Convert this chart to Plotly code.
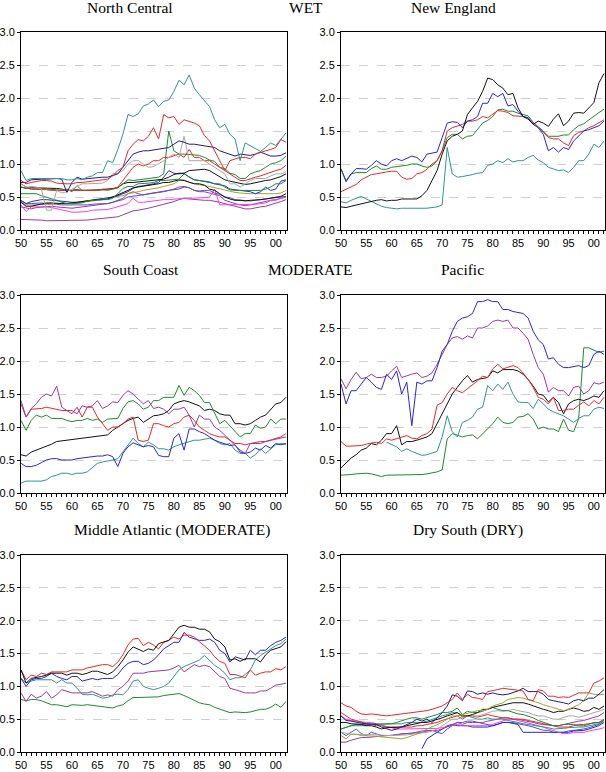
import plotly.graph_objects as go

years = list(range(1950, 2003))
x_tick_years = [1950, 1955, 1960, 1965, 1970, 1975, 1980, 1985, 1990, 1995, 2000]
x_tick_text = ["50", "55", "60", "65", "70", "75", "80", "85", "90", "95", "00"]
y_tick_vals = [0.0, 0.5, 1.0, 1.5, 2.0, 2.5, 3.0]

titles = ["North Central", "New England", "South Coast", "Pacific",
          "Middle Atlantic (MODERATE)", "Dry South (DRY)"]
group_labels = ["WET", "MODERATE"]

BLUE = "#2626d8"
RED = "#e42a2a"
GREEN = "#1e8a2c"
BLACK = "#111111"
TEAL = "#2f9494"
PURPLE = "#9a3aa0"
NAVY = "#1d1d7c"
GREY = "#a8a8a8"
OLIVE = "#a2a232"
MAGENTA = "#f040f0"
SLATE = "#5252c0"

# ---------------- North Central ----------------
nc_teal = [0.90, 0.75, 0.78, 0.78, 0.78, 0.78, 0.79, 0.79, 0.78, 0.76,
           0.76, 0.78, 0.76, 0.80, 0.82, 0.87, 0.87, 1.05, 1.02, 1.22,
           1.45, 1.75, 1.72, 1.76, 1.88, 1.91, 1.97, 1.87, 1.95, 1.97,
           2.10, 2.27, 2.20, 2.35, 2.15, 2.05, 1.96, 1.87, 1.67, 1.55,
           1.60, 1.45, 1.38, 1.05, 1.32, 1.28, 1.24, 1.19, 1.25, 1.32,
           1.28, 1.38, 1.47]
nc_red = [0.75, 0.70, 0.72, 0.74, 0.75, 0.75, 0.74, 0.71, 0.70, 0.70,
          0.70, 0.72, 0.72, 0.73, 0.75, 0.75, 0.76, 0.77, 0.82, 0.90,
          0.95, 1.20, 1.30, 1.37, 1.35, 1.42, 1.55, 1.38, 1.75, 1.70,
          1.72, 1.60, 1.67, 1.65, 1.62, 1.58, 1.43, 1.35, 1.20, 1.05,
          0.90, 1.05, 1.08, 1.10, 1.10, 1.08, 1.15, 1.18, 1.20, 1.22,
          1.25, 1.37, 1.33]
nc_navy = [0.72, 0.72, 0.76, 0.77, 0.77, 0.77, 0.78, 0.78, 0.77, 0.57,
           0.72, 0.80, 0.77, 0.78, 0.78, 0.79, 0.80, 0.80, 0.82, 0.85,
           0.95, 1.05, 1.15, 1.18, 1.20, 1.20, 1.21, 1.22, 1.24, 1.25,
           1.30, 1.35, 1.33, 1.30, 1.30, 1.29, 1.28, 1.27, 1.25, 1.20,
           1.17, 1.15, 1.12, 1.15, 1.14, 1.13, 1.15, 1.18, 1.15, 1.12,
           1.12, 1.13, 1.17]
nc_grey = [0.70, 0.65, 0.66, 0.65, 0.62, 0.30, 0.30, 0.60, 0.56, 0.58,
           0.62, 0.66, 0.70, 0.70, 0.70, 0.70, 0.71, 0.75, 0.85, 0.86,
           0.90, 1.00, 1.05, 1.05, 1.00, 0.95, 0.96, 1.00, 1.05, 1.10,
           1.15, 1.10, 1.42, 1.05, 1.05, 1.05, 1.05, 1.00, 0.95, 0.90,
           0.85, 0.70, 0.70, 0.65, 0.70, 0.75, 0.78, 0.78, 0.78, 0.82,
           0.85, 0.85, 0.88]
nc_red2 = [0.70, 0.65, 0.62, 0.62, 0.62, 0.61, 0.60, 0.60, 0.60, 0.60,
           0.60, 0.60, 0.60, 0.60, 0.60, 0.60, 0.62, 0.62, 0.62, 0.65,
           0.75, 0.85, 0.95, 1.00, 0.97, 1.00, 1.05, 1.05, 1.10, 1.10,
           1.13, 1.15, 1.10, 1.22, 1.10, 1.10, 1.05, 1.05, 1.00, 0.95,
           0.90, 0.85, 0.80, 0.75, 0.75, 0.78, 0.80, 0.82, 0.85, 0.88,
           0.90, 0.92, 0.98]
nc_green = [0.65, 0.63, 0.62, 0.62, 0.63, 0.62, 0.62, 0.61, 0.60, 0.62,
            0.58, 0.67, 0.60, 0.60, 0.59, 0.60, 0.61, 0.60, 0.62, 0.64,
            0.70, 0.76, 0.75, 0.76, 0.77, 0.78, 0.78, 0.80, 0.85, 1.50,
            1.20, 1.15, 1.15, 1.14, 1.14, 1.13, 1.10, 1.06, 1.04, 0.95,
            0.93, 0.86, 0.84, 0.78, 0.78, 0.85, 0.88, 0.90, 0.95, 1.00,
            1.02, 1.05, 1.12]
nc_green2 = [0.55, 0.55, 0.56, 0.55, 0.52, 0.50, 0.48, 0.45, 0.42, 0.40,
             0.40, 0.40, 0.41, 0.44, 0.45, 0.45, 0.46, 0.46, 0.48, 0.55,
             0.63, 0.66, 0.66, 0.70, 0.70, 0.71, 0.72, 0.75, 0.75, 0.76,
             0.76, 0.77, 0.85, 0.80, 0.76, 0.75, 0.74, 0.73, 0.70, 0.70,
             0.65, 0.61, 0.60, 0.60, 0.60, 0.60, 0.60, 0.60, 0.62, 0.65,
             0.70, 0.70, 0.75]
nc_black = [0.65, 0.63, 0.64, 0.64, 0.64, 0.64, 0.63, 0.63, 0.62, 0.60,
            0.60, 0.61, 0.60, 0.60, 0.60, 0.61, 0.61, 0.62, 0.63, 0.64,
            0.70, 0.72, 0.72, 0.73, 0.73, 0.74, 0.75, 0.76, 0.77, 0.80,
            0.84, 0.86, 0.86, 0.90, 0.91, 0.92, 0.92, 0.90, 0.85, 0.80,
            0.76, 0.74, 0.72, 0.70, 0.69, 0.70, 0.72, 0.73, 0.75, 0.76,
            0.78, 0.81, 0.85]
nc_black2 = [0.42, 0.36, 0.36, 0.38, 0.40, 0.41, 0.41, 0.40, 0.40, 0.40,
             0.41, 0.42, 0.44, 0.45, 0.45, 0.46, 0.46, 0.47, 0.50, 0.53,
             0.56, 0.60, 0.64, 0.65, 0.66, 0.67, 0.69, 0.70, 0.72, 0.72,
             0.74, 0.76, 0.75, 0.72, 0.70, 0.70, 0.68, 0.62, 0.60, 0.55,
             0.50, 0.47, 0.45, 0.45, 0.44, 0.45, 0.45, 0.46, 0.47, 0.48,
             0.50, 0.51, 0.55]
nc_blue = [0.45, 0.40, 0.43, 0.45, 0.46, 0.46, 0.45, 0.44, 0.43, 0.42,
           0.42, 0.42, 0.43, 0.44, 0.45, 0.46, 0.47, 0.48, 0.50, 0.52,
           0.55, 0.58, 0.63, 0.66, 0.67, 0.68, 0.70, 0.72, 0.80, 0.90,
           0.86, 0.85, 0.86, 0.80, 0.76, 0.75, 0.74, 0.72, 0.70, 0.68,
           0.67, 0.62, 0.61, 0.60, 0.60, 0.58, 0.55, 0.58, 0.65, 0.60,
           0.62, 0.74, 0.76]
nc_olive = [0.42, 0.38, 0.38, 0.38, 0.38, 0.38, 0.39, 0.40, 0.40, 0.40,
            0.40, 0.41, 0.42, 0.43, 0.45, 0.45, 0.46, 0.47, 0.50, 0.51,
            0.52, 0.55, 0.56, 0.58, 0.60, 0.61, 0.62, 0.64, 0.66, 0.68,
            0.70, 0.75, 0.76, 0.72, 0.70, 0.69, 0.67, 0.66, 0.64, 0.62,
            0.60, 0.58, 0.57, 0.56, 0.55, 0.55, 0.55, 0.55, 0.54, 0.55,
            0.55, 0.56, 0.60]
nc_slate = [0.44, 0.40, 0.40, 0.41, 0.41, 0.40, 0.40, 0.39, 0.38, 0.38,
            0.37, 0.37, 0.38, 0.38, 0.39, 0.40, 0.40, 0.40, 0.42, 0.44,
            0.46, 0.50, 0.51, 0.52, 0.54, 0.55, 0.56, 0.57, 0.58, 0.60,
            0.61, 0.62, 0.65, 0.64, 0.60, 0.59, 0.60, 0.60, 0.56, 0.54,
            0.50, 0.49, 0.46, 0.45, 0.44, 0.44, 0.45, 0.46, 0.48, 0.48,
            0.49, 0.50, 0.51]
nc_magenta = [0.38, 0.28, 0.35, 0.35, 0.36, 0.35, 0.34, 0.32, 0.30, 0.29,
              0.27, 0.27, 0.27, 0.28, 0.30, 0.30, 0.30, 0.31, 0.33, 0.35,
              0.37, 0.40, 0.48, 0.42, 0.42, 0.43, 0.45, 0.45, 0.46, 0.46,
              0.47, 0.48, 0.48, 0.48, 0.48, 0.48, 0.49, 0.50, 0.62, 0.38,
              0.38, 0.38, 0.38, 0.38, 0.38, 0.38, 0.39, 0.40, 0.41, 0.45,
              0.45, 0.48, 0.50]
nc_purple = [0.35, 0.33, 0.32, 0.34, 0.35, 0.35, 0.36, 0.35, 0.34, 0.33,
             0.33, 0.34, 0.35, 0.36, 0.37, 0.38, 0.38, 0.40, 0.42, 0.45,
             0.48, 0.55, 0.58, 0.55, 0.53, 0.55, 0.56, 0.57, 0.58, 0.60,
             0.62, 0.65, 0.66, 0.64, 0.60, 0.58, 0.58, 0.56, 0.55, 0.52,
             0.45, 0.42, 0.40, 0.38, 0.37, 0.38, 0.40, 0.42, 0.44, 0.45,
             0.46, 0.48, 0.50]
nc_purple2 = [0.16, 0.16, 0.16, 0.16, 0.15, 0.14, 0.14, 0.14, 0.14, 0.14,
              0.14, 0.14, 0.14, 0.15, 0.16, 0.17, 0.17, 0.18, 0.19, 0.20,
              0.23, 0.26, 0.29, 0.30, 0.31, 0.33, 0.35, 0.37, 0.39, 0.40,
              0.43, 0.46, 0.48, 0.47, 0.46, 0.45, 0.45, 0.45, 0.44, 0.42,
              0.40, 0.38, 0.35, 0.33, 0.32, 0.32, 0.34, 0.35, 0.36, 0.38,
              0.41, 0.43, 0.46]

# ---------------- New England ----------------
ne_black = [0.35, 0.34, 0.36, 0.38, 0.40, 0.42, 0.43, 0.45, 0.46, 0.44,
            0.45, 0.45, 0.47, 0.47, 0.46, 0.47, 0.52, 0.60, 0.75, 0.90,
            1.15, 1.35, 1.42, 1.45, 1.50, 1.75, 1.85, 1.95, 2.10, 2.30,
            2.28, 2.20, 2.15, 2.05, 2.07, 1.85, 1.72, 1.68, 1.60, 1.65,
            1.62, 1.57, 1.68, 1.76, 1.58, 1.65, 1.77, 1.78, 1.77, 1.85,
            1.93, 2.23, 2.37]
ne_blue = [0.93, 0.73, 0.85, 0.93, 0.93, 0.92, 0.98, 1.05, 1.00, 0.97,
           1.05, 1.08, 1.05, 1.08, 1.12, 1.10, 1.03, 1.15, 1.17, 1.18,
           1.40, 1.62, 1.64, 1.63, 1.55, 1.65, 1.67, 1.72, 1.92, 1.92,
           2.07, 2.02, 2.07, 1.88, 1.90, 1.80, 1.72, 1.70, 1.60, 1.55,
           1.45, 1.20, 1.25, 1.18, 1.25, 1.22, 1.35, 1.43, 1.50, 1.52,
           1.55, 1.58, 1.65]
ne_red = [0.58, 0.62, 0.66, 0.69, 0.76, 0.80, 0.84, 0.85, 0.87, 0.88,
          0.89, 0.89, 0.80, 0.77, 0.78, 0.85, 0.87, 0.92, 1.00, 1.05,
          1.20, 1.50, 1.55, 1.58, 1.60, 1.65, 1.65, 1.67, 1.72, 1.70,
          1.75, 1.81, 1.80, 1.78, 1.73, 1.73, 1.72, 1.70, 1.62, 1.55,
          1.48, 1.40, 1.38, 1.38, 1.32, 1.28, 1.43, 1.48, 1.50, 1.55,
          1.58, 1.62, 1.67]
ne_green = [0.92, 0.75, 0.85, 0.87, 0.87, 0.87, 0.93, 0.97, 0.92, 0.92,
            0.95, 0.96, 0.96, 0.98, 1.00, 1.00, 0.97, 0.95, 0.97, 1.05,
            1.20, 1.40, 1.45, 1.45, 1.38, 1.42, 1.43, 1.52, 1.62, 1.66,
            1.72, 1.82, 1.83, 1.80, 1.80, 1.77, 1.75, 1.73, 1.63, 1.57,
            1.50, 1.42, 1.42, 1.42, 1.44, 1.44, 1.52, 1.58, 1.61, 1.67,
            1.73, 1.78, 1.83]
ne_teal = [0.43, 0.41, 0.45, 0.48, 0.51, 0.47, 0.43, 0.40, 0.36, 0.34,
           0.33, 0.32, 0.33, 0.33, 0.33, 0.32, 0.33, 0.33, 0.34, 0.35,
           0.38, 1.25, 0.85, 0.80, 0.81, 0.82, 0.84, 0.86, 0.87, 0.98,
           1.00, 1.05, 1.02, 1.08, 1.03, 1.05, 1.05, 1.10, 1.13, 1.06,
           1.02, 0.95, 0.92, 0.90, 0.91, 0.87, 0.95, 1.05, 1.05, 1.15,
           1.30, 1.25, 1.35]

# ---------------- South Coast ----------------
sc_purple = [1.40, 1.15, 1.28, 1.35, 1.45, 1.50, 1.47, 1.62, 1.30, 1.25,
             1.25, 1.20, 1.32, 1.30, 1.32, 1.40, 1.28, 1.32, 1.38, 1.37,
             1.48, 1.55, 1.50, 1.43, 1.35, 1.40, 1.28, 1.30, 1.27, 1.20,
             1.27, 1.27, 1.30, 1.18, 1.00, 1.18, 1.12, 1.12, 1.00, 0.95,
             0.88, 0.80, 0.72, 0.65, 0.60, 0.75, 0.75, 0.75, 0.78, 0.80,
             0.83, 0.85, 0.90]
sc_red = [1.35, 1.15, 1.27, 1.27, 1.28, 1.30, 1.28, 1.27, 1.25, 1.25,
          1.20, 1.30, 1.15, 1.30, 1.30, 1.15, 1.05, 0.95, 1.00, 1.00,
          1.05, 1.12, 1.15, 0.80, 0.78, 0.80, 1.05, 1.05, 1.02, 1.00,
          1.05, 1.07, 1.15, 1.18, 1.10, 1.00, 0.95, 0.90, 0.87, 0.85,
          0.85, 0.80, 0.75, 0.75, 0.73, 0.75, 0.77, 0.78, 0.78, 0.80,
          0.82, 0.83, 0.85]
sc_green = [1.10, 0.95, 1.10, 1.18, 1.15, 1.18, 1.13, 1.13, 1.13, 1.10,
            1.08, 1.10, 1.10, 1.13, 1.10, 1.12, 1.07, 1.12, 1.13, 1.13,
            1.28, 1.38, 1.40, 1.35, 1.27, 1.30, 1.40, 1.40, 1.45, 1.45,
            1.45, 1.63, 1.48, 1.60, 1.55, 1.48, 1.37, 1.37, 1.20, 1.05,
            1.10, 1.02, 0.93, 0.85, 0.90, 0.90, 1.03, 0.98, 1.00, 1.12,
            1.05, 1.12, 1.12]
sc_black = [0.58, 0.56, 0.62, 0.65, 0.68, 0.70, 0.74, 0.78, 0.79, 0.79,
            0.80, 0.82, 0.83, 0.84, 0.85, 0.86, 0.87, 0.88, 0.95, 1.00,
            1.05, 1.10, 1.13, 1.15, 1.07, 1.12, 1.17, 1.18, 1.20, 1.25,
            1.35, 1.38, 1.40, 1.38, 1.35, 1.32, 1.25, 1.27, 1.25, 1.20,
            1.18, 1.18, 1.05, 1.05, 1.03, 1.05, 1.10, 1.15, 1.18, 1.27,
            1.35, 1.37, 1.45]
sc_blue = [0.45, 0.40, 0.40, 0.42, 0.46, 0.50, 0.52, 0.52, 0.50, 0.50,
           0.50, 0.52, 0.53, 0.55, 0.55, 0.56, 0.56, 0.58, 0.55, 0.40,
           0.60, 0.70, 0.76, 0.73, 0.70, 0.72, 0.70, 0.57, 0.55, 0.55,
           0.83, 0.90, 0.65, 0.97, 0.97, 0.93, 0.90, 0.85, 0.80, 0.77,
           0.75, 0.72, 0.73, 0.62, 0.60, 0.62, 0.68, 0.65, 0.72, 0.68,
           0.75, 0.73, 0.75]
sc_teal = [0.15, 0.18, 0.18, 0.18, 0.18, 0.20, 0.25, 0.27, 0.30, 0.30,
           0.28, 0.30, 0.30, 0.32, 0.38, 0.45, 0.47, 0.48, 0.50, 0.52,
           0.62, 0.72, 0.83, 0.75, 0.70, 0.77, 0.73, 0.67, 0.67, 0.65,
           0.70, 0.73, 0.75, 0.77, 0.80, 0.80, 0.82, 0.83, 0.80, 0.75,
           0.73, 0.75, 0.65, 0.60, 0.60, 0.53, 0.58, 0.67, 0.60, 0.67,
           0.73, 0.75, 0.74]

# ---------------- Pacific ----------------
pa_blue = [1.65, 1.35, 1.55, 1.55, 1.65, 1.75, 1.68, 1.60, 1.57, 1.80,
           1.72, 1.85, 1.50, 1.68, 1.02, 1.68, 1.65, 1.70, 1.70, 1.90,
           2.15, 2.25, 2.45, 2.60, 2.65, 2.67, 2.72, 2.90, 2.90, 2.93,
           2.90, 2.90, 2.78, 2.78, 2.75, 2.73, 2.72, 2.65, 2.45, 2.32,
           2.25, 2.03, 2.05, 1.95, 1.90, 1.90, 1.92, 1.93, 1.90, 1.93,
           2.10, 2.15, 2.10]
pa_purple = [1.73, 1.58, 1.72, 1.83, 1.73, 1.75, 1.80, 1.75, 1.75, 1.77,
             1.85, 1.92, 1.75, 1.78, 1.80, 1.82, 1.75, 1.77, 1.82, 1.95,
             2.10, 2.25, 2.35, 2.37, 2.33, 2.38, 2.35, 2.50, 2.50, 2.53,
             2.60, 2.62, 2.60, 2.62, 2.50, 2.50, 2.42, 2.33, 2.10, 1.90,
             1.80, 1.53, 1.60, 1.55, 1.55, 1.47, 1.60, 1.62, 1.50, 1.55,
             1.67, 1.65, 1.68]
pa_red = [0.78, 0.71, 0.71, 0.71, 0.72, 0.74, 0.76, 0.77, 0.75, 0.82,
          0.80, 0.82, 0.85, 0.87, 0.83, 0.82, 0.87, 0.90, 0.97, 1.33,
          1.37, 1.50, 1.60, 1.55, 1.52, 1.58, 1.63, 1.70, 1.77, 1.75,
          1.88, 1.95, 1.88, 1.90, 1.93, 1.90, 1.82, 1.72, 1.60, 1.45,
          1.42, 1.35, 1.45, 1.25, 1.25, 1.27, 1.27, 1.33, 1.38, 1.32,
          1.40, 1.35, 1.45]
pa_black = [0.38, 0.45, 0.53, 0.58, 0.65, 0.68, 0.75, 0.73, 0.80, 0.90,
            0.90, 1.02, 0.73, 0.78, 0.78, 0.80, 0.82, 0.85, 0.90, 1.05,
            1.20, 1.35, 1.50, 1.60, 1.70, 1.78, 1.68, 1.72, 1.73, 1.75,
            1.85, 1.82, 1.87, 1.87, 1.87, 1.85, 1.80, 1.72, 1.62, 1.50,
            1.48, 1.38, 1.45, 1.37, 1.20, 1.35, 1.40, 1.42, 1.40, 1.43,
            1.47, 1.45, 1.55]
pa_teal = [None, None, None, None, None, None, None, None, None, 0.77,
           0.73, 0.70, 0.63, 0.67, 0.63, 0.60, 0.57, 0.58, 0.60, 0.63,
           0.85, 1.17, 0.93, 0.85, 1.07, 1.10, 1.15, 1.27, 1.30, 1.63,
           1.55, 1.65, 1.57, 1.68, 1.50, 1.38, 1.37, 1.37, 1.28, 1.42,
           1.35, 1.27, 1.23, 1.20, 1.17, 1.12, 1.07, 1.13, 1.17, 1.17,
           1.27, 1.30, 1.28]
pa_green = [0.27, 0.27, 0.28, 0.29, 0.30, 0.30, 0.29, 0.27, 0.25, 0.27,
            0.27, 0.28, 0.28, 0.27, 0.28, 0.28, 0.28, 0.29, 0.30, 0.32,
            0.35, 0.82, 0.90, 0.87, 0.85, 0.87, 0.88, 0.82, 0.90, 0.97,
            1.05, 1.15, 1.07, 1.05, 1.07, 1.15, 1.16, 1.20, 1.12, 0.97,
            1.00, 0.97, 0.97, 0.93, 1.12, 0.95, 0.93, 1.13, 2.20, 2.20,
            2.17, 2.13, 2.15]

# ---------------- Middle Atlantic ----------------
ma_black = [1.25, 1.05, 1.12, 1.13, 1.15, 1.17, 1.20, 1.20, 1.20, 1.17,
            1.20, 1.20, 1.18, 1.20, 1.23, 1.23, 1.20, 1.18, 1.22, 1.30,
            1.40, 1.52, 1.60, 1.57, 1.53, 1.57, 1.55, 1.65, 1.67, 1.70,
            1.80, 1.90, 1.93, 1.90, 1.90, 1.87, 1.87, 1.83, 1.72, 1.68,
            1.60, 1.40, 1.42, 1.38, 1.42, 1.42, 1.42, 1.37, 1.48, 1.55,
            1.58, 1.60, 1.68]
ma_red = [1.25, 1.10, 1.17, 1.15, 1.20, 1.18, 1.22, 1.22, 1.23, 1.22,
          1.25, 1.25, 1.25, 1.28, 1.30, 1.32, 1.33, 1.33, 1.30, 1.37,
          1.48, 1.63, 1.72, 1.73, 1.62, 1.67, 1.63, 1.57, 1.67, 1.70,
          1.75, 1.72, 1.78, 1.78, 1.75, 1.68, 1.62, 1.55, 1.45, 1.38,
          1.35, 1.18, 1.18, 1.15, 1.13, 1.25, 1.17, 1.20, 1.22, 1.22,
          1.27, 1.25, 1.30]
ma_blue = [1.12, 1.00, 1.10, 1.12, 1.12, 1.15, 1.20, 1.15, 1.12, 1.10,
           1.15, 1.15, 1.08, 1.10, 1.12, 1.10, 1.12, 1.12, 1.12, 1.18,
           1.28, 1.35, 1.38, 1.38, 1.33, 1.35, 1.40, 1.48, 1.57, 1.62,
           1.67, 1.67, 1.82, 1.75, 1.72, 1.70, 1.70, 1.72, 1.67, 1.55,
           1.50, 1.37, 1.45, 1.42, 1.40, 1.55, 1.48, 1.55, 1.55, 1.62,
           1.67, 1.70, 1.75]
ma_teal = [1.12, 1.05, 1.08, 1.10, 1.10, 1.10, 1.10, 1.05, 1.10, 1.05,
           1.05, 0.97, 0.88, 0.87, 0.88, 0.85, 0.82, 0.83, 0.87, 0.88,
           0.87, 0.95, 1.08, 1.10, 1.00, 0.97, 0.95, 0.97, 1.00, 1.05,
           1.15, 1.25, 1.30, 1.33, 1.37, 1.40, 1.47, 1.40, 1.32, 1.27,
           1.20, 1.10, 1.13, 1.13, 1.18, 1.25, 1.40, 1.47, 1.52, 1.57,
           1.62, 1.65, 1.72]
ma_purple = [0.90, 0.77, 0.88, 0.82, 0.85, 0.92, 0.82, 0.87, 0.95, 0.92,
             0.90, 0.90, 0.90, 0.90, 0.92, 0.88, 0.85, 0.87, 0.85, 0.95,
             1.00, 1.08, 1.20, 1.20, 1.20, 1.22, 1.23, 1.23, 1.25, 1.25,
             1.28, 1.32, 1.22, 1.28, 1.33, 1.30, 1.32, 1.30, 1.22, 1.15,
             1.12, 0.97, 0.95, 0.92, 0.90, 0.90, 0.90, 0.93, 0.93, 0.97,
             1.02, 1.03, 1.05]
ma_green = [0.80, 0.78, 0.80, 0.80, 0.78, 0.75, 0.72, 0.72, 0.70, 0.69,
            0.72, 0.71, 0.71, 0.72, 0.71, 0.70, 0.68, 0.67, 0.67, 0.70,
            0.72, 0.78, 0.83, 0.83, 0.83, 0.84, 0.84, 0.84, 0.86, 0.87,
            0.88, 0.89, 0.86, 0.82, 0.78, 0.75, 0.73, 0.72, 0.68, 0.65,
            0.63, 0.60, 0.61, 0.60, 0.60, 0.61, 0.63, 0.65, 0.65, 0.68,
            0.73, 0.68, 0.77]

# ---------------- Dry South ----------------
ds_red = [0.75, 0.70, 0.68, 0.62, 0.58, 0.57, 0.58, 0.57, 0.56, 0.55,
          0.56, 0.57, 0.58, 0.58, 0.60, 0.61, 0.62, 0.63, 0.65, 0.67,
          0.70, 0.75, 0.80, 0.90, 0.80, 0.88, 0.83, 0.82, 0.80, 0.92,
          0.93, 0.95, 0.97, 0.96, 0.95, 0.95, 0.93, 0.80, 0.78, 0.95,
          0.93, 0.85, 0.85, 0.83, 0.84, 0.83, 0.87, 0.90, 0.90, 0.90,
          1.05, 1.08, 1.13]
ds_navy = [0.55, 0.48, 0.47, 0.45, 0.44, 0.43, 0.43, 0.42, 0.38, 0.35,
           0.33, 0.35, 0.38, 0.42, 0.45, 0.50, 0.47, 0.50, 0.45, 0.52,
           0.60, 0.70, 0.87, 0.85, 0.78, 0.93, 0.92, 0.88, 0.90, 0.88,
           0.90, 0.88, 0.87, 0.88, 0.90, 0.93, 0.97, 0.92, 0.92, 0.92,
           0.88, 0.80, 0.78, 0.77, 0.75, 0.73, 0.78, 0.80, 0.78, 0.82,
           0.82, 0.88, 0.95]
ds_olive = [0.25, 0.20, 0.27, 0.27, 0.25, 0.25, 0.24, 0.24, 0.23, 0.22,
            0.22, 0.20, 0.20, 0.22, 0.25, 0.27, 0.30, 0.35, 0.38, 0.42,
            0.45, 0.50, 0.55, 0.55, 0.57, 0.60, 0.62, 0.63, 0.63, 0.65,
            0.70, 0.72, 0.75, 0.80, 0.82, 0.83, 0.82, 0.80, 0.78, 0.75,
            0.72, 0.70, 0.67, 0.65, 0.63, 0.65, 0.68, 0.72, 0.78, 0.90,
            0.88, 0.87, 0.88]
ds_black = [0.45, 0.45, 0.43, 0.43, 0.42, 0.40, 0.40, 0.38, 0.35, 0.37,
            0.37, 0.38, 0.38, 0.40, 0.42, 0.43, 0.45, 0.45, 0.47, 0.50,
            0.52, 0.55, 0.58, 0.60, 0.55, 0.55, 0.57, 0.60, 0.65, 0.65,
            0.68, 0.70, 0.72, 0.73, 0.75, 0.75, 0.75, 0.73, 0.70, 0.67,
            0.65, 0.63, 0.60, 0.62, 0.62, 0.65, 0.67, 0.65, 0.62, 0.63,
            0.68, 0.65, 0.70]
ds_green = [0.35, 0.38, 0.40, 0.42, 0.42, 0.43, 0.43, 0.42, 0.42, 0.42,
            0.43, 0.45, 0.48, 0.50, 0.52, 0.52, 0.50, 0.52, 0.55, 0.57,
            0.60, 0.60, 0.62, 0.67, 0.57, 0.62, 0.60, 0.60, 0.62, 0.65,
            0.68, 0.65, 0.63, 0.63, 0.60, 0.58, 0.57, 0.55, 0.52, 0.48,
            0.45, 0.43, 0.40, 0.40, 0.42, 0.42, 0.42, 0.40, 0.40, 0.42,
            0.45, 0.45, 0.50]
ds_grey = [0.30, 0.28, 0.27, 0.27, 0.27, 0.27, 0.27, 0.27, 0.26, 0.25,
           0.25, 0.25, 0.25, 0.26, 0.27, 0.28, 0.28, 0.30, 0.32, 0.35,
           0.40, 0.45, 0.50, 0.50, 0.52, 0.55, 0.55, 0.55, 0.57, 0.60,
           0.62, 0.63, 0.62, 0.63, 0.65, 0.63, 0.62, 0.60, 0.57, 0.55,
           0.55, 0.52, 0.50, 0.50, 0.52, 0.55, 0.55, 0.53, 0.55, 0.58,
           0.60, 0.62, 0.65]
ds_red2 = [0.60, 0.55, 0.50, 0.48, 0.45, 0.43, 0.42, 0.40, 0.40, 0.38,
           0.38, 0.38, 0.38, 0.38, 0.38, 0.40, 0.40, 0.42, 0.43, 0.45,
           0.48, 0.50, 0.52, 0.55, 0.50, 0.55, 0.55, 0.53, 0.55, 0.57,
           0.55, 0.53, 0.52, 0.52, 0.50, 0.50, 0.50, 0.48, 0.47, 0.45,
           0.43, 0.42, 0.40, 0.38, 0.38, 0.38, 0.40, 0.42, 0.42, 0.43,
           0.43, 0.45, 0.48]
ds_teal = [0.35, 0.37, 0.40, 0.40, 0.40, 0.40, 0.42, 0.42, 0.42, 0.42,
           0.42, 0.42, 0.43, 0.45, 0.45, 0.45, 0.45, 0.47, 0.50, 0.53,
           0.55, 0.57, 0.60, 0.60, 0.53, 0.55, 0.53, 0.50, 0.50, 0.52,
           0.50, 0.50, 0.50, 0.48, 0.47, 0.45, 0.43, 0.42, 0.40, 0.40,
           0.38, 0.37, 0.35, 0.35, 0.36, 0.37, 0.38, 0.38, 0.38, 0.40,
           0.42, 0.43, 0.45]
ds_purple = [0.15, 0.15, 0.18, 0.20, 0.22, 0.22, 0.23, 0.24, 0.24, 0.25,
             0.25, 0.27, 0.28, 0.28, 0.28, 0.30, 0.30, 0.32, 0.32, 0.33,
             0.35, 0.38, 0.42, 0.45, 0.42, 0.45, 0.45, 0.45, 0.45, 0.47,
             0.48, 0.50, 0.52, 0.52, 0.50, 0.50, 0.48, 0.47, 0.45, 0.43,
             0.42, 0.40, 0.40, 0.40, 0.42, 0.43, 0.45, 0.47, 0.48, 0.50,
             0.52, 0.55, 0.60]
ds_magenta = [0.55, 0.50, 0.48, 0.47, 0.45, 0.45, 0.45, 0.43, 0.40, 0.38,
              0.36, 0.35, 0.35, 0.35, 0.35, 0.35, 0.35, 0.35, 0.35, 0.36,
              0.37, 0.38, 0.40, 0.42, 0.40, 0.40, 0.40, 0.40, 0.40, 0.40,
              0.42, 0.45, 0.48, 0.50, 0.50, 0.48, 0.47, 0.45, 0.43, 0.40,
              0.38, 0.35, 0.32, 0.30, 0.28, 0.28, 0.30, 0.30, 0.30, 0.32,
              0.33, 0.35, 0.37]
ds_blue = [None, None, None, None, None, None, None, None, None, None,
           None, None, None, None, None, None, 0.05, 0.20, 0.25, 0.30,
           0.35, 0.40, 0.42, 0.40, 0.40, 0.40, 0.38, 0.38, 0.38, 0.38,
           0.40, 0.42, 0.45, 0.45, 0.43, 0.42, 0.30, 0.30, 0.30, 0.30,
           0.30, 0.30, 0.30, 0.30, 0.30, 0.30, 0.32, 0.32, 0.33, 0.35,
           0.37, 0.40, 0.45]
ds_slate = [0.30, 0.25, 0.30, 0.35, 0.28, 0.25, 0.30, 0.28, 0.25, 0.25,
            0.25, 0.26, 0.27, 0.28, 0.28, 0.30, 0.32, 0.33, 0.33, 0.30,
            0.28, 0.35, 0.40, 0.45, 0.45, 0.47, 0.47, 0.45, 0.43, 0.42,
            0.40, 0.42, 0.45, 0.45, 0.45, 0.43, 0.42, 0.40, 0.38, 0.35,
            0.33, 0.33, 0.30, 0.30, 0.30, 0.32, 0.33, 0.33, 0.35, 0.37,
            0.40, 0.42, 0.48]

panels = [
    [(nc_purple2, PURPLE), (nc_purple, PURPLE), (nc_magenta, MAGENTA), (nc_slate, SLATE),
     (nc_olive, OLIVE), (nc_blue, BLUE), (nc_black2, BLACK), (nc_green2, GREEN),
     (nc_black, BLACK), (nc_green, GREEN), (nc_red2, RED), (nc_grey, GREY),
     (nc_navy, NAVY), (nc_red, RED), (nc_teal, TEAL)],
    [(ne_teal, TEAL), (ne_green, GREEN), (ne_red, RED), (ne_blue, BLUE), (ne_black, BLACK)],
    [(sc_teal, TEAL), (sc_blue, BLUE), (sc_black, BLACK), (sc_green, GREEN),
     (sc_red, RED), (sc_purple, PURPLE)],
    [(pa_green, GREEN), (pa_teal, TEAL), (pa_black, BLACK), (pa_red, RED),
     (pa_purple, PURPLE), (pa_blue, BLUE)],
    [(ma_green, GREEN), (ma_purple, PURPLE), (ma_teal, TEAL), (ma_blue, BLUE),
     (ma_red, RED), (ma_black, BLACK)],
    [(ds_slate, SLATE), (ds_blue, BLUE), (ds_magenta, MAGENTA), (ds_purple, PURPLE),
     (ds_teal, TEAL), (ds_red2, RED), (ds_grey, GREY), (ds_green, GREEN),
     (ds_black, BLACK), (ds_olive, OLIVE), (ds_navy, NAVY), (ds_red, RED)],
]

W, H = 606, 772
col_px = [(21, 287), (341, 605)]
row_px = [(32, 230), (295, 493), (555, 752)]

fig = go.Figure()
layout = dict(
    template="none",
    width=W, height=H, margin=dict(l=0, r=0, t=0, b=0, pad=0),
    paper_bgcolor="white", plot_bgcolor="white", showlegend=False,
)
x_font = dict(family="Liberation Sans, Arial, sans-serif", size=11, color="black")
y_font = dict(family="Liberation Sans, Arial, sans-serif", size=11, color="black")
for i, series in enumerate(panels):
    r, c = divmod(i, 2)
    sfx = "" if i == 0 else str(i + 1)
    for vals, col in series:
        fig.add_trace(go.Scatter(
            x=years, y=vals, mode="lines", line=dict(color=col, width=1),
            xaxis="x" + sfx, yaxis="y" + sfx, hoverinfo="skip", showlegend=False))
    x0, x1 = col_px[c]
    y0, y1 = row_px[r]
    layout["xaxis" + sfx] = dict(
        domain=[x0 / W, x1 / W], anchor="y" + sfx, range=[1950, 2002.2],
        automargin=False,
        tickmode="array", tickvals=x_tick_years, ticktext=x_tick_text,
        ticks="outside", ticklen=3, tickcolor="black", tickwidth=1,
        minor=dict(tickmode="linear", tick0=1950, dtick=1, ticks="outside",
                   ticklen=3, tickcolor="black", showgrid=False),
        showline=True, linecolor="black", linewidth=1, mirror=True,
        showgrid=False, zeroline=False, tickfont=x_font, fixedrange=True)
    layout["yaxis" + sfx] = dict(
        domain=[1 - y1 / H, 1 - y0 / H], anchor="x" + sfx, range=[0, 3],
        automargin=False,
        tickmode="array", tickvals=y_tick_vals, tickformat=".1f",
        ticks="outside", ticklen=3, tickcolor="black",
        showline=True, linecolor="black", linewidth=1, mirror=True,
        showgrid=True, gridcolor="#cfcfcf", griddash="dash", gridwidth=1,
        zeroline=False, tickfont=y_font, fixedrange=True)

title_pos = [(130, 7), (453, 7), (141, 269), (462, 269), (172, 530), (468, 530)]
group_pos = [(306, 7), (310, 269)]
annotations = []
title_font = dict(family="Liberation Serif, Times New Roman, serif", size=15.5, color="black")
for txt, (px, py) in zip(titles, title_pos):
    annotations.append(dict(text=txt, x=px / W, y=1 - py / H, xref="paper", yref="paper",
                            xanchor="center", yanchor="middle", showarrow=False, font=title_font))
for txt, (px, py) in zip(group_labels, group_pos):
    annotations.append(dict(text=txt, x=px / W, y=1 - py / H, xref="paper", yref="paper",
                            xanchor="center", yanchor="middle", showarrow=False, font=title_font))
layout["annotations"] = annotations
fig.update_layout(**layout)
fig.write_html("out.html", config={"displayModeBar": False},
               post_script="document.body.style.margin='0';document.body.style.overflow='hidden';")
